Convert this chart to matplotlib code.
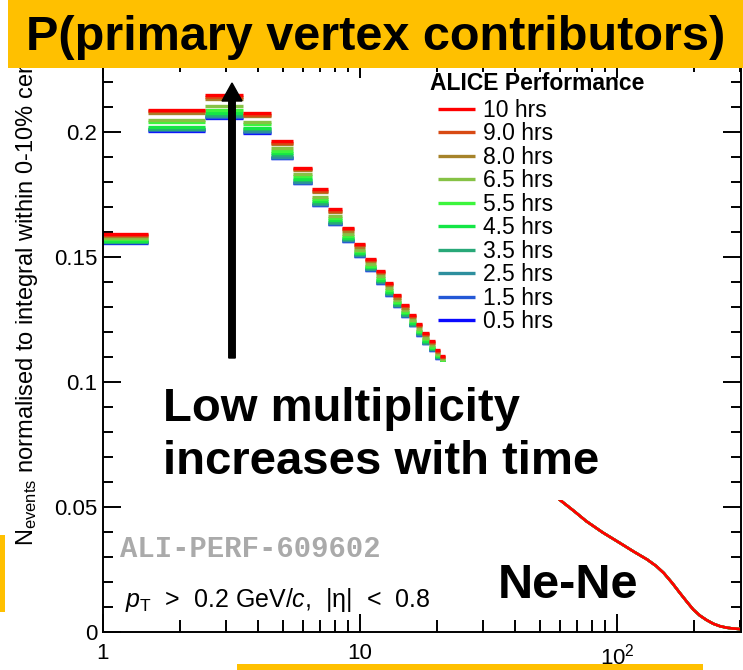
import numpy as np
import matplotlib
matplotlib.use("Agg")
import matplotlib.pyplot as plt
from matplotlib.patches import Rectangle, FancyArrow
from matplotlib.ticker import FixedLocator, MultipleLocator, FuncFormatter, NullFormatter

plt.rcParams['font.family'] = ['Liberation Sans', 'DejaVu Sans']
plt.rcParams['mathtext.fontset'] = 'custom'
plt.rcParams['mathtext.rm'] = 'Liberation Sans'
plt.rcParams['mathtext.it'] = 'Liberation Sans:italic'
plt.rcParams['mathtext.bf'] = 'Liberation Sans:bold'

# number of primary vertex contributors (integer bins 1..21)
bins = np.arange(1, 22)

labels = ["10 hrs", "9.0 hrs", "8.0 hrs", "6.5 hrs", "5.5 hrs",
          "4.5 hrs", "3.5 hrs", "2.5 hrs", "1.5 hrs", "0.5 hrs"]
colors = ["#ff0000", "#d84a14", "#a6832a", "#86c245", "#3cf53c",
          "#14e646", "#28a878", "#2e8f9e", "#2458d6", "#0a0aff"]

h10 = [0.1591, 0.2089, 0.2147, 0.2076, 0.1964, 0.1857, 0.1771, 0.1691, 0.1616, 0.1552, 0.1493,
       0.1445, 0.1397, 0.1347, 0.1307, 0.1269, 0.1232, 0.1195, 0.1163, 0.1128, 0.1104]
h90 = [0.1589, 0.2084, 0.2142, 0.2070, 0.1958, 0.1852, 0.1765, 0.1685, 0.1611, 0.1547, 0.1489,
       0.1440, 0.1392, 0.1343, 0.1303, 0.1265, 0.1228, 0.1191, 0.1160, 0.1125, 0.1101]
h80 = [0.1585, 0.2076, 0.2132, 0.2063, 0.1952, 0.1847, 0.1759, 0.1679, 0.1605, 0.1542, 0.1484,
       0.1435, 0.1387, 0.1338, 0.1298, 0.1261, 0.1223, 0.1187, 0.1156, 0.1122, 0.1099]
h65 = [0.1575, 0.2049, 0.2103, 0.2040, 0.1935, 0.1831, 0.1742, 0.1664, 0.1592, 0.1530, 0.1473,
       0.1423, 0.1375, 0.1328, 0.1288, 0.1250, 0.1213, 0.1177, 0.1147, 0.1114, 0.1092]
h55 = [0.1572, 0.2040, 0.2090, 0.2030, 0.1925, 0.1823, 0.1734, 0.1656, 0.1584, 0.1523, 0.1466,
       0.1416, 0.1368, 0.1321, 0.1281, 0.1244, 0.1206, 0.1171, 0.1142, 0.1109, 0.1088]
h45 = [0.1565, 0.2020, 0.2078, 0.2018, 0.1915, 0.1814, 0.1724, 0.1647, 0.1576, 0.1516, 0.1459,
       0.1409, 0.1361, 0.1315, 0.1275, 0.1238, 0.1200, 0.1165, 0.1137, 0.1104, 0.1084]
h35 = [0.1562, 0.2014, 0.2070, 0.2010, 0.1908, 0.1807, 0.1717, 0.1641, 0.1571, 0.1511, 0.1455,
       0.1404, 0.1356, 0.1310, 0.1270, 0.1233, 0.1195, 0.1161, 0.1133, 0.1101, 0.1081]
h25 = [0.1560, 0.2010, 0.2065, 0.2005, 0.1902, 0.1802, 0.1712, 0.1637, 0.1567, 0.1508, 0.1452,
       0.1401, 0.1353, 0.1307, 0.1267, 0.1230, 0.1192, 0.1158, 0.1131, 0.1099, 0.1079]
h15 = [0.1559, 0.2007, 0.2060, 0.1999, 0.1898, 0.1798, 0.1709, 0.1634, 0.1565, 0.1505, 0.1450,
       0.1398, 0.1350, 0.1305, 0.1265, 0.1228, 0.1190, 0.1156, 0.1129, 0.1097, 0.1078]
h05 = [0.1558, 0.2005, 0.2058, 0.1996, 0.1895, 0.1795, 0.1707, 0.1632, 0.1563, 0.1504, 0.1448,
       0.1397, 0.1349, 0.1304, 0.1264, 0.1227, 0.1189, 0.1155, 0.1128, 0.1096, 0.1077]
series = [h10, h90, h80, h65, h55, h45, h35, h25, h15, h05]

# high-multiplicity tail (all times overlap)
tail_x = [55, 60, 68, 76, 88, 103, 116, 131, 142, 152, 164, 176, 188, 198, 210, 223, 237, 252, 268, 283, 306]
tail_y = [0.0560, 0.0528, 0.0484, 0.0443, 0.0398, 0.0355, 0.0322, 0.0290, 0.0264, 0.0236, 0.0196, 0.0155,
          0.0118, 0.0090, 0.0066, 0.0048, 0.0033, 0.0023, 0.0017, 0.0014, 0.0011]

W, H = 743, 670
fig = plt.figure(figsize=(W / 100, H / 100), dpi=100)
ax = fig.add_axes([103 / W, 38 / H, 638 / W, 572 / H])

handles = []
for vals, col, lab in zip(series[::-1], colors[::-1], labels[::-1]):
    lc = ax.hlines(vals, bins - 0.5, bins + 0.5, colors=col, lw=2.4, label=lab)
    ax.plot(tail_x, tail_y, color=col, lw=1.8)
    handles.append(lc)
handles = handles[::-1]

ax.set_xscale('log')
ax.set_xlim(1, 10 ** (638 / 257))
ax.set_ylim(0, 572 / 2500)

ax.xaxis.set_major_locator(FixedLocator([1, 10, 100]))
ax.xaxis.set_major_formatter(FuncFormatter(lambda v, p: {1: '1', 10: '10', 100: r'$10^{2}$'}.get(int(round(v)), '')))
ax.xaxis.set_minor_formatter(NullFormatter())
ax.yaxis.set_major_locator(MultipleLocator(0.05))
ax.yaxis.set_minor_locator(MultipleLocator(0.01))
ax.yaxis.set_major_formatter(FuncFormatter(lambda v, p: '%g' % round(v, 3)))

ax.tick_params(axis='both', which='both', direction='in', top=True, right=True,
               width=1.4, labelsize=16)
ax.tick_params(axis='y', which='major', length=13, pad=4)
ax.tick_params(axis='y', which='minor', length=7.5)
ax.tick_params(axis='x', which='major', length=13, pad=8)
ax.tick_params(axis='x', which='minor', length=8.5)
for s in ax.spines.values():
    s.set_linewidth(1.4)

ax.legend(handles, labels, loc='upper left', bbox_to_anchor=(438 / W, 1 - 99 / H),
          bbox_transform=fig.transFigure, frameon=False, borderpad=0, borderaxespad=0,
          handlelength=1.6, handletextpad=0.35, labelspacing=0.02, fontsize=16.5)

fig.text(430 / W, 1 - 83 / H, 'ALICE Performance', fontsize=16.5, weight='bold', va='center')

fig.text(27 / W, 1 - 546 / H, r'N$_{\rm events}$ normalised to integral within 0-10% centrality',
         rotation=90, ha='center', va='bottom', fontsize=17, zorder=3)

fig.text(120 / W, 1 - 549 / H, 'ALI-PERF-609602', family='Liberation Mono', weight='bold',
         fontsize=20.8, color='#aaaaaa', va='center')
fig.text(125 / W, 1 - 600 / H, r'$p_{\rm T}$  >  0.2 GeV/$c$,  |η|  <  0.8', fontsize=18, va='center')

# overlay: white box with annotation
fig.add_artist(Rectangle((150 / W, 1 - 500 / H), 465 / W, 138 / H, transform=fig.transFigure,
                         facecolor='white', edgecolor='none', zorder=2))
fig.text(163 / W, 1 - 387 / H, 'Low multiplicity\nincreases with time', fontsize=34,
         weight='bold', va='top', ha='left', linespacing=1.25, zorder=3)
fig.add_artist(FancyArrow(2.32, (H - 358) / 100, 0, 2.75, width=0.065, head_width=0.2,
                          head_length=0.18, length_includes_head=True, color='black',
                          transform=fig.dpi_scale_trans, zorder=3))
fig.text(498 / W, 1 - 585 / H, 'Ne-Ne', fontsize=35, weight='bold', va='center', zorder=3)

# title banner
fig.add_artist(Rectangle((8 / W, 1 - 68 / H), 735 / W, 68 / H, transform=fig.transFigure,
                         facecolor='#ffc000', edgecolor='none', zorder=4))
fig.text(376 / W, 1 - 37 / H, 'P(primary vertex contributors)', fontsize=35, weight='bold',
         ha='center', va='center', zorder=5)

# slide remnants
fig.add_artist(Rectangle((0, 1 - 612 / H), 5 / W, 77 / H, transform=fig.transFigure,
                         facecolor='#ffc000', edgecolor='none', zorder=4))
fig.add_artist(Rectangle((237 / W, 0), 466 / W, 6 / H, transform=fig.transFigure,
                         facecolor='#ffc000', edgecolor='none', zorder=4))

fig.savefig('out.png', dpi=100)
